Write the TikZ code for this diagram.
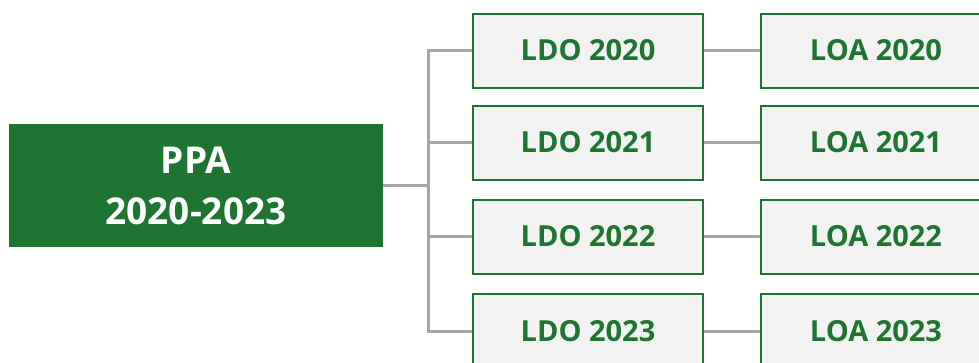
\documentclass[tikz,border=0pt]{standalone}
\usepackage{fontspec}
\setmainfont{Open Sans}
\definecolor{plangreen}{HTML}{1E7431}
\definecolor{boxgray}{HTML}{F2F2F2}
\definecolor{linkgray}{HTML}{A6A6A6}
\begin{document}
\begin{tikzpicture}[x=1pt, y=-1pt,
	line cap=butt, line join=miter,
	link/.style={linkgray, line width=3pt},
	plan/.style={fill=plangreen, text=white, inner sep=0pt, align=center,
		minimum width=374pt, minimum height=123pt,
		font=\bfseries\fontsize{37}{51}\selectfont},
	law/.style={draw=plangreen, line width=2pt, fill=boxgray, text=plangreen,
		inner sep=0pt, minimum width=230pt, minimum height=74pt,
		font=\bfseries\fontsize{29}{35}\selectfont}]
	
	\useasboundingbox (0,0) rectangle (979,362);
	\clip (0,0) rectangle (979,362);
	
	% main plan
	\node [plan] (ppa) at (196,185.5) {PPA\\2020-2023};
	\coordinate (trunk) at (428,185.5);
	\draw [link] (ppa) -- (trunk);
	
	% yearly laws
	\foreach \yr/\y in {2020/50.5, 2021/142.5, 2022/236.5, 2023/331}{
		\node [law] (ldo\yr) at (588,\y) {LDO \yr};
		\node [law] (loa\yr) at (876,\y) {LOA \yr};
		\draw [link] (trunk) |- (ldo\yr);
		\draw [link] (ldo\yr) -- (loa\yr);
	}
	
\end{tikzpicture}
\end{document}
